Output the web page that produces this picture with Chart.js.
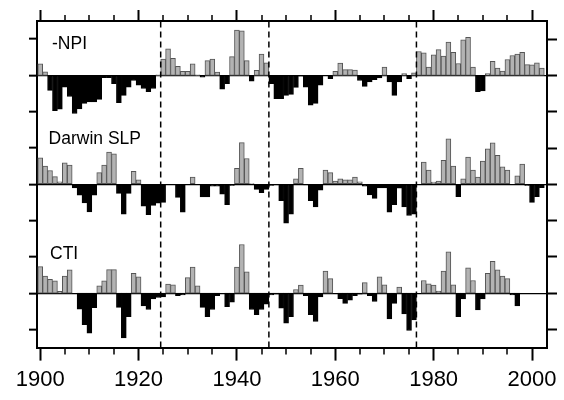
<!DOCTYPE html>
<html>
<head>
<meta charset="utf-8">
<script src="https://cdn.jsdelivr.net/npm/chart.js@4"></script>
<style>
    html, body { margin: 0; padding: 0; background: #fff; }
    #chart { display: block; }
</style>
</head>
<body>
<canvas id="chart" width="564" height="400"></canvas>
<script>
// Annual index anomalies, one value per year from firstYear on
const firstYear = 1900;

const npi = [
    0.32, 0.10, -0.41, -0.97, -0.93, -0.32, -0.58, -1.05, -0.92, -0.77,   // 1900s
    -0.73, -0.73, -0.66, -0.06, -0.06, -0.23, -0.75, -0.55, -0.32, -0.14, // 1910s
    -0.27, -0.36, -0.45, -0.36, 0.02, 0.45, 0.73, 0.47, 0.25, 0.11,       // 1920s
    0.11, 0.32, 0.02, -0.05, 0.41, 0.45, 0.09, -0.38, -0.23, 0.52,        // 1930s
    1.25, 1.23, 0.41, -0.16, 0.14, 0.59, 0.35, -0.23, -0.64, -0.64,       // 1940s
    -0.55, -0.52, -0.33, -0.02, -0.32, -0.82, -0.77, -0.27, 0.00, -0.09,  // 1950s
    0.11, 0.34, 0.16, 0.16, 0.15, -0.14, -0.30, -0.18, -0.12, -0.07,      // 1960s
    0.23, -0.18, -0.55, -0.18, 0.05, -0.09, 0.07, 0.66, 0.62, 0.23,       // 1970s
    0.57, 0.71, 0.53, 0.92, 0.64, 0.33, 0.98, 1.05, 0.23, -0.45,          // 1980s
    -0.43, 0.05, 0.39, 0.20, 0.12, 0.44, 0.55, 0.59, 0.64, 0.30,          // 1990s
    0.29, 0.35, 0.20                                                      // 2000s
];

const darwinSlp = [
    0.73, 0.50, 0.38, 0.21, 0.07, 0.59, 0.53, -0.10, -0.30, -0.51,
    -0.76, -0.30, 0.32, 0.53, 0.89, 0.84, -0.25, -0.82, -0.25, 0.36,
    0.12, -0.60, -0.84, -0.58, -0.52, -0.50, 0.00, 0.00, -0.36, -0.77,
    0.00, 0.20, 0.00, -0.35, -0.35, -0.05, -0.05, -0.27, -0.56, -0.03,
    0.44, 1.15, 0.71, 0.02, -0.14, -0.23, -0.14, -0.03, -0.02, -0.45,
    -1.07, -0.82, 0.15, 0.44, -0.02, -0.45, -0.62, -0.16, 0.39, 0.32,
    0.09, 0.15, 0.12, 0.12, 0.20, 0.07, -0.05, -0.29, -0.39, -0.10,
    -0.10, -0.77, -0.56, -0.11, -0.62, -0.86, -0.82, 0.00, 0.61, 0.39,
    0.06, 0.09, 0.66, 1.25, 0.50, -0.34, 0.15, 0.75, 0.39, 0.20,
    0.64, 0.98, 1.14, 0.80, 0.48, 0.39, 0.00, 0.23, 0.56, -0.03,
    -0.50, -0.34, -0.09
];

const cti = [
    0.73, 0.47, 0.38, 0.34, 0.05, 0.47, 0.64, 0.00, -0.44, -0.87,
    -1.10, -0.40, 0.20, 0.34, 0.65, 0.65, -0.39, -1.23, -0.65, 0.55,
    0.45, -0.35, -0.45, -0.16, -0.12, -0.10, 0.25, 0.23, -0.07, -0.05,
    0.43, 0.72, 0.20, -0.39, -0.65, -0.45, -0.07, 0.00, -0.37, -0.25,
    0.72, 1.34, 0.59, -0.45, -0.59, -0.45, -0.30, -0.05, -0.03, -0.41,
    -0.83, -0.65, 0.10, 0.22, -0.07, -0.59, -0.78, -0.10, 0.61, 0.40,
    0.00, -0.15, -0.28, -0.19, -0.07, -0.03, 0.29, -0.07, -0.23, 0.45,
    0.23, -0.71, -0.28, 0.17, -0.57, -1.03, -0.74, 0.00, 0.35, 0.26,
    0.22, 0.06, 0.61, 1.14, 0.23, -0.65, -0.16, 0.70, 0.35, -0.46,
    -0.16, 0.55, 0.88, 0.64, 0.47, 0.40, -0.05, -0.35
];

const panelNames = ['-NPI', 'Darwin SLP', 'CTI'];
const regimeShifts = [1924.5, 1946.5, 1976.5];
const xTickLabels = [1900, 1920, 1940, 1960, 1980, 2000];
const yTickValues = [-4, -3, -2, -1, 0, 1, 2, 3, 4];

// Layout: each panel gets 3 units of the shared y axis, baselines at +3, 0, -3
const PANEL_OFFSETS = [3, 0, -3];
const X_MIN = 1899.35;
const X_MAX = 2003.05;
const Y_MIN = -4.5;
const Y_MAX = 4.5;
const LABEL_POS = [
    { x: 1902.4, y: 3.73 },
    { x: 1901.7, y: 1.11 },
    { x: 1902.0, y: -2.07 }
];

const FONT = "'Liberation Sans', Arial, Helvetica, sans-serif";
const GRAY = '#b3b3b3';
const GRAY_EDGE = '#555555';

const years = npi.map((_, i) => firstYear + i);
const minorYears = [];
for (let yr = xTickLabels[0]; yr <= xTickLabels[xTickLabels.length - 1]; yr += 5) {
    if (!xTickLabels.includes(yr)) minorYears.push(yr);
}

function barDataset(values, offset) {
    const points = [];
    const fills = [];
    const edges = [];
    values.forEach((v, i) => {
        points.push({ x: years[i], y: [offset, offset + v] });
        fills.push(v >= 0 ? GRAY : '#000');
        edges.push(v >= 0 ? GRAY_EDGE : '#000');
    });
    return {
        type: 'bar',
        data: points,
        backgroundColor: fills,
        borderColor: edges,
        borderWidth: 1,
        borderSkipped: false,
        barPercentage: 1,
        categoryPercentage: 1,
        grouped: false,
        order: 2
    };
}

function dashedDataset(year) {
    return {
        type: 'line',
        data: [{ x: year, y: Y_MIN }, { x: year, y: Y_MAX }],
        borderColor: '#000',
        borderWidth: 1.5,
        borderDash: [6, 4],
        pointRadius: 0,
        fill: false,
        order: 1
    };
}

// minor 5-year ticks on top and bottom, shorter than the labelled ones
const minorTicks = {
    id: 'minorTicks',
    afterDraw(chart) {
        const ctx = chart.ctx;
        const area = chart.chartArea;
        const xs = chart.scales.x;
        ctx.save();
        ctx.strokeStyle = '#000';
        ctx.lineWidth = 1.5;
        minorYears.forEach(yr => {
            const px = Math.round(xs.getPixelForValue(yr));
            ctx.beginPath();
            ctx.moveTo(px, area.bottom);
            ctx.lineTo(px, area.bottom + 7);
            ctx.moveTo(px, area.top);
            ctx.lineTo(px, area.top - 6);
            ctx.stroke();
        });
        ctx.restore();
    }
};

const panelLabels = {
    id: 'panelLabels',
    afterDatasetsDraw(chart) {
        const ctx = chart.ctx;
        ctx.save();
        ctx.fillStyle = '#000';
        ctx.font = `17.5px ${FONT}`;
        ctx.textAlign = 'left';
        ctx.textBaseline = 'alphabetic';
        panelNames.forEach((name, i) => {
            const px = chart.scales.x.getPixelForValue(LABEL_POS[i].x);
            const py = chart.scales.y.getPixelForValue(LABEL_POS[i].y);
            ctx.fillText(name, px, py);
        });
        ctx.restore();
    }
};

const datasets = [
    barDataset(npi, PANEL_OFFSETS[0]),
    barDataset(darwinSlp, PANEL_OFFSETS[1]),
    barDataset(cti, PANEL_OFFSETS[2]),
    ...regimeShifts.map(dashedDataset)
];

const frame = { display: true, color: '#000', width: 2 };

new Chart(document.getElementById('chart'), {
    type: 'bar',
    data: { datasets: datasets },
    options: {
        responsive: false,
        animation: false,
        devicePixelRatio: 1,
        layout: { padding: { left: 29, right: 7, top: 10, bottom: 1 } },
        plugins: {
            legend: { display: false },
            tooltip: { enabled: false }
        },
        scales: {
            x: {
                type: 'linear',
                position: 'bottom',
                min: X_MIN,
                max: X_MAX,
                offset: false,
                afterBuildTicks: s => { s.ticks = xTickLabels.map(v => ({ value: v })); },
                grid: { drawOnChartArea: false, offset: false, tickLength: 13, tickColor: '#000', tickWidth: 2 },
                border: frame,
                ticks: {
                    color: '#000',
                    font: { family: FONT, size: 22 },
                    padding: 6,
                    maxRotation: 0,
                    autoSkip: false,
                    callback: v => String(v)
                }
            },
            x2: {
                type: 'linear',
                position: 'top',
                min: X_MIN,
                max: X_MAX,
                offset: false,
                afterBuildTicks: s => { s.ticks = xTickLabels.map(v => ({ value: v })); },
                grid: { drawOnChartArea: false, offset: false, tickLength: 11, tickColor: '#000', tickWidth: 2 },
                border: frame,
                ticks: { display: false }
            },
            y: {
                type: 'linear',
                position: 'left',
                min: Y_MIN,
                max: Y_MAX,
                afterBuildTicks: s => { s.ticks = yTickValues.map(v => ({ value: v })); },
                grid: {
                    color: c => (c.tick && c.tick.value % 3 === 0) ? '#000' : 'rgba(0,0,0,0)',
                    lineWidth: 1.3,
                    tickLength: 8,
                    tickColor: '#000',
                    tickWidth: 2
                },
                border: frame,
                ticks: { display: false }
            },
            y2: {
                type: 'linear',
                position: 'right',
                min: Y_MIN,
                max: Y_MAX,
                afterBuildTicks: s => { s.ticks = yTickValues.map(v => ({ value: v })); },
                grid: { drawOnChartArea: false, tickLength: 10, tickColor: '#000', tickWidth: 2 },
                border: frame,
                ticks: { display: false }
            }
        }
    },
    plugins: [minorTicks, panelLabels]
});
</script>
</body>
</html>
